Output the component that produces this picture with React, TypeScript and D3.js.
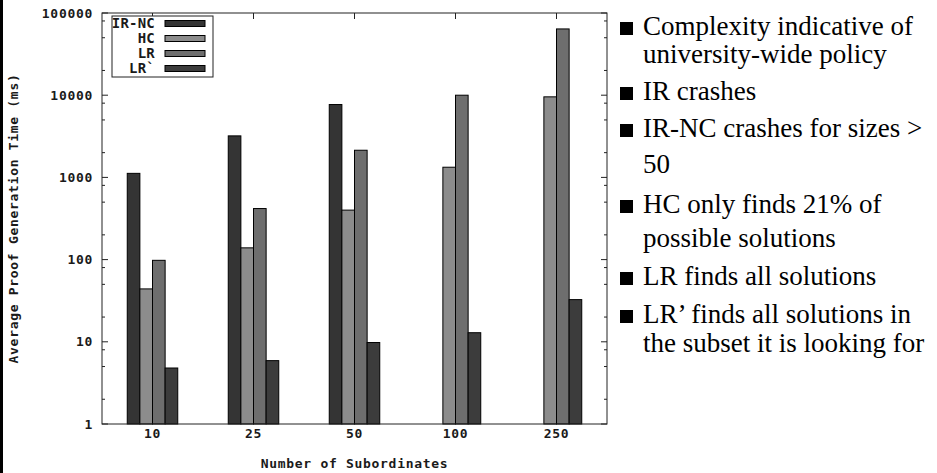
import React, { useRef, useEffect } from 'react';
import * as d3 from 'd3';

const categories = ['10', '25', '50', '100', '250'];
const seriesNames = ['IR-NC', 'HC', 'LR', 'LR`'];
const irNcValues = [1120, 3200, 7700, null, null];
const hcValues = [44, 139, 400, 1330, 9550];
const lrValues = [98, 418, 2140, 10000, 64000];
const lrPrimeValues = [4.8, 5.9, 9.8, 12.9, 32.6];
const yTickValues = [1, 10, 100, 1000, 10000, 100000];
const minorSteps = [2, 5, 8];
const notes = [
  ['Complexity indicative of', 'university-wide policy'],
  ['IR crashes'],
  ['IR-NC crashes for sizes >', '50'],
  ['HC only finds 21% of', 'possible solutions'],
  ['LR finds all solutions'],
  ['LR\u2019 finds all solutions in', 'the subset it is looking for'],
];

const seriesColors = ['#343434', '#8c8c8c', '#6e6e6e', '#3c3c3c'];
const monoFont = '"DejaVu Sans Mono", monospace';

function ProofTimeChart() {
  const svgRef = useRef(null);

  useEffect(() => {
    const svg = d3.select(svgRef.current);
    svg.selectAll('*').remove();

    const left = 102, right = 607, top = 13, bottom = 424;

    const x = d3.scaleLinear().domain([-0.5, categories.length - 0.5]).range([left, right]);
    const y = d3.scaleLog().domain([1, 100000]).range([bottom, top]);
    const barW = 0.125;

    // thick page edge on the left
    svg.append('rect').attr('x', 0).attr('y', 0).attr('width', 3).attr('height', 473).attr('fill', '#000');

    // bars
    const series = [irNcValues, hcValues, lrValues, lrPrimeValues];
    series.forEach((values, j) => {
      const cells = values
        .map((v, i) => ({ v, i }))
        .filter((d) => d.v != null);
      svg
        .append('g')
        .selectAll('rect')
        .data(cells)
        .join('rect')
        .attr('x', (d) => x(d.i + (j - 2) * barW))
        .attr('width', x(barW) - x(0))
        .attr('y', (d) => y(d.v))
        .attr('height', (d) => y(1) - y(d.v))
        .attr('fill', seriesColors[j])
        .attr('stroke', '#000')
        .attr('stroke-width', 1);
    });

    // frame
    svg
      .append('rect')
      .attr('x', left)
      .attr('y', top)
      .attr('width', right - left)
      .attr('height', bottom - top)
      .attr('fill', 'none')
      .attr('stroke', '#222');

    // y ticks, mirrored on both sides
    const minor = [];
    yTickValues.slice(0, -1).forEach((t) => minorSteps.forEach((s) => minor.push(t * s)));
    const tickG = svg.append('g').attr('stroke', '#222');
    yTickValues.forEach((t) => {
      tickG.append('line').attr('x1', left).attr('x2', left + 6).attr('y1', y(t)).attr('y2', y(t));
      tickG.append('line').attr('x1', right).attr('x2', right - 6).attr('y1', y(t)).attr('y2', y(t));
    });
    minor.forEach((t) => {
      tickG.append('line').attr('x1', left).attr('x2', left + 3).attr('y1', y(t)).attr('y2', y(t));
      tickG.append('line').attr('x1', right).attr('x2', right - 3).attr('y1', y(t)).attr('y2', y(t));
    });
    // x ticks on the top border only
    categories.forEach((c, i) => {
      tickG.append('line').attr('x1', x(i)).attr('x2', x(i)).attr('y1', top).attr('y2', top + 6);
    });

    const monoText = (sel, size = 13) =>
      sel
        .attr('font-family', monoFont)
        .attr('font-size', size)
        .attr('font-weight', 'bold')
        .attr('letter-spacing', size === 13 ? 0.7 : 0.2)
        .attr('fill', '#1a1a1a');

    // y tick labels
    svg
      .append('g')
      .selectAll('text')
      .data(yTickValues)
      .join('text')
      .attr('x', left - 9)
      .attr('y', (d) => y(d))
      .attr('dy', '0.35em')
      .attr('text-anchor', 'end')
      .call(monoText)
      .text((d) => d3.format('d')(d));

    // x tick labels
    svg
      .append('g')
      .selectAll('text')
      .data(categories)
      .join('text')
      .attr('x', (d, i) => x(i))
      .attr('y', 438)
      .attr('text-anchor', 'middle')
      .call(monoText)
      .text((d) => d);

    // axis titles
    svg
      .append('text')
      .attr('x', (left + right) / 2)
      .attr('y', 468)
      .attr('text-anchor', 'middle')
      .call(monoText)
      .text('Number of Subordinates');

    svg
      .append('text')
      .attr('transform', `translate(13,${(top + bottom) / 2}) rotate(-90)`)
      .attr('text-anchor', 'middle')
      .attr('dy', '0.35em')
      .call(monoText)
      .text('Average Proof Generation Time (ms)');

    // legend
    const legend = svg.append('g');
    legend
      .append('rect')
      .attr('x', 112)
      .attr('y', 16)
      .attr('width', 101)
      .attr('height', 61)
      .attr('fill', '#fff')
      .attr('stroke', '#222');
    seriesNames.forEach((name, j) => {
      const cy = 23.5 + j * 15;
      legend
        .append('text')
        .attr('x', 155)
        .attr('y', cy)
        .attr('dy', '0.35em')
        .attr('text-anchor', 'end')
        .call((s) => monoText(s, 14))
        .text(name);
      legend
        .append('rect')
        .attr('x', 165)
        .attr('y', cy - 3)
        .attr('width', 40)
        .attr('height', 6)
        .attr('fill', seriesColors[j])
        .attr('stroke', '#000');
    });

    // bullet notes on the right
    const noteBaselines = [[35, 63], [100], [137, 173], [213, 247], [285], [323, 352]];
    const notesG = svg.append('g');
    notes.forEach((lines, k) => {
      const base = noteBaselines[k];
      notesG
        .append('rect')
        .attr('x', 620)
        .attr('y', base[0] - 13)
        .attr('width', 13)
        .attr('height', 13)
        .attr('fill', '#000');
      lines.forEach((line, n) => {
        notesG
          .append('text')
          .attr('x', 643)
          .attr('y', base[n])
          .attr('font-family', '"Liberation Serif", "Times New Roman", serif')
          .attr('font-size', 27)
          .attr('fill', '#000')
          .text(line);
      });
    });
  }, []);

  return (
    <svg
      ref={svgRef}
      width={937}
      height={473}
      style={{ position: 'absolute', left: 0, top: 0, background: '#fff' }}
    />
  );
}

export default function App() {
  return <ProofTimeChart />;
}
